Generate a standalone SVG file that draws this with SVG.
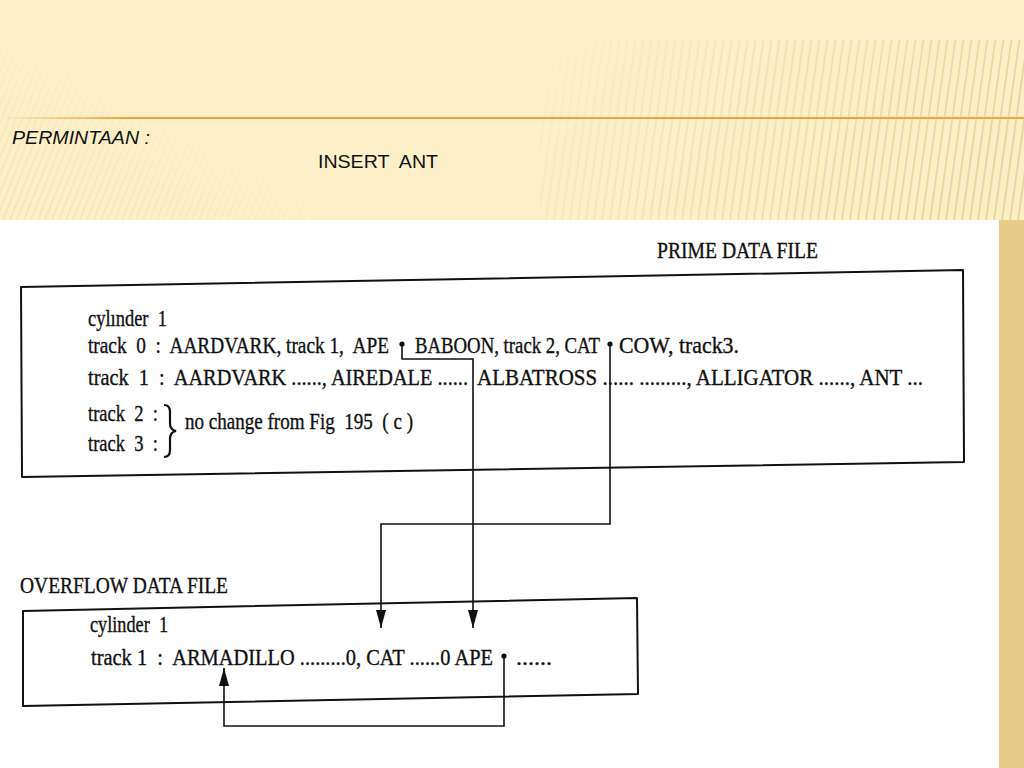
<svg xmlns="http://www.w3.org/2000/svg" width="1024" height="768" viewBox="0 0 1024 768">
<defs>
<style>
.serif{font-family:"Liberation Serif","Times New Roman",serif;font-size:23px;fill:#111;stroke:#111;stroke-width:0.35;white-space:pre}
.sans{font-family:"Liberation Sans",Arial,sans-serif;font-size:19px;fill:#111;white-space:pre}
.box{fill:#fff;stroke:#111;stroke-width:2;stroke-linejoin:round}
.conn{fill:none;stroke:#111;stroke-width:1.6}
.dot{fill:#111}
</style>
<marker id="ah" markerUnits="userSpaceOnUse" markerWidth="19" markerHeight="10" refX="18" refY="5" orient="auto">
<path d="M0,0 L18,5 L0,10 z" fill="#111"/>
</marker>
<pattern id="hatchL" width="7" height="60" patternUnits="userSpaceOnUse" patternTransform="skewX(-22)">
<rect width="1.4" height="60" fill="#EBD49A"/>
</pattern>
<pattern id="hatchR" width="8" height="60" patternUnits="userSpaceOnUse" patternTransform="skewX(-8)">
<rect width="2" height="60" fill="#E8CF8E"/>
</pattern>
<linearGradient id="fadeL" x1="0" y1="1" x2="1" y2="0">
<stop offset="0" stop-color="#fff" stop-opacity="0.6"/>
<stop offset="0.65" stop-color="#fff" stop-opacity="0"/>
</linearGradient>
<linearGradient id="fadeR" x1="0" y1="0" x2="1" y2="0.3">
<stop offset="0" stop-color="#fff" stop-opacity="0"/>
<stop offset="1" stop-color="#fff" stop-opacity="0.8"/>
</linearGradient>
<linearGradient id="fadeV" x1="0" y1="0" x2="0" y2="1">
<stop offset="0" stop-color="#fff" stop-opacity="0"/>
<stop offset="0.4" stop-color="#fff" stop-opacity="1"/>
</linearGradient>
<linearGradient id="rule" x1="0" y1="0" x2="1" y2="0">
<stop offset="0" stop-color="#E9A73E" stop-opacity="0"/>
<stop offset="0.12" stop-color="#E9A73E" stop-opacity="1"/>
<stop offset="1" stop-color="#E9A73E" stop-opacity="1"/>
</linearGradient>
<mask id="mL"><rect x="0" y="50" width="320" height="170" fill="url(#fadeL)"/></mask>
<mask id="mR"><rect x="540" y="40" width="484" height="180" fill="url(#fadeR)"/></mask>
</defs>

<!-- slide background -->
<rect x="0" y="0" width="1024" height="768" fill="#FDF0C8"/>
<rect x="0" y="50" width="320" height="170" fill="url(#hatchL)" mask="url(#mL)"/>
<rect x="540" y="40" width="484" height="180" fill="url(#hatchR)" mask="url(#mR)"/>
<rect x="0" y="117" width="1024" height="2" fill="url(#rule)"/>
<text class="sans" x="12" y="144" font-style="italic" textLength="138" lengthAdjust="spacingAndGlyphs">PERMINTAAN :</text>
<text class="sans" x="318" y="168" textLength="120" lengthAdjust="spacingAndGlyphs">INSERT  ANT</text>

<!-- scanned figure panel -->
<rect x="0" y="220" width="999" height="548" fill="#fff"/>
<rect x="999" y="220" width="25" height="548" fill="#E6CD8A"/>

<g id="prime-data-file">
<text class="serif" x="657" y="258" textLength="161" lengthAdjust="spacingAndGlyphs">PRIME DATA FILE</text>
<polygon class="box" points="21,287 963,270 964,462 22,477"/>
<text class="serif" x="88" y="326" textLength="79" lengthAdjust="spacingAndGlyphs">cylınder  1</text>
<text class="serif" x="88" y="353" textLength="301" lengthAdjust="spacingAndGlyphs">track  0  :  AARDVARK, track 1,  APE</text>
<text class="serif" x="415" y="353" textLength="185" lengthAdjust="spacingAndGlyphs">BABOON, track 2, CAT</text>
<text class="serif" x="619" y="353" textLength="120" lengthAdjust="spacingAndGlyphs">COW, track3.</text>
<text class="serif" x="88" y="385" textLength="380" lengthAdjust="spacingAndGlyphs">track  1  :  AARDVARK ......, AIREDALE ......</text>
<text class="serif" x="477" y="385" textLength="446" lengthAdjust="spacingAndGlyphs">ALBATROSS ...... ........., ALLIGATOR ......, ANT ...</text>
<text class="serif" x="88" y="421" textLength="70" lengthAdjust="spacingAndGlyphs">track  2  :</text>
<text class="serif" x="88" y="451" textLength="70" lengthAdjust="spacingAndGlyphs">track  3  :</text>
<path d="M164,405 Q170,405 170,412 L170,423 Q170,430 176,431 Q170,432 170,439 L170,450 Q170,457 164,457" fill="none" stroke="#111" stroke-width="2.2"/>
<text class="serif" x="185" y="429" textLength="228" lengthAdjust="spacingAndGlyphs">no change from Fig  195  ( c )</text>
</g>

<g id="overflow-data-file">
<text class="serif" x="20" y="593" textLength="208" lengthAdjust="spacingAndGlyphs">OVERFLOW DATA FILE</text>
<polygon class="box" points="23,611 637,598 638,694 23,706"/>
<text class="serif" x="90" y="632" textLength="78" lengthAdjust="spacingAndGlyphs">cylinder  1</text>
<text class="serif" x="91" y="665" textLength="402" lengthAdjust="spacingAndGlyphs">track 1  :  ARMADILLO .........0, CAT ......0 APE</text>
<text class="serif" x="516" y="665" textLength="36" lengthAdjust="spacingAndGlyphs">......</text>
</g>

<g id="connectors">
<circle class="dot" cx="402" cy="344" r="2.6"/>
<path class="conn" d="M402,344 L402,359 L473,359 L473,628" marker-end="url(#ah)"/>
<circle class="dot" cx="610" cy="344" r="2.6"/>
<path class="conn" d="M610,344 L610,524 L381,524 L381,628" marker-end="url(#ah)"/>
<circle class="dot" cx="504" cy="656" r="2.6"/>
<path class="conn" d="M504,656 L504,726 L224,726 L224,668" marker-end="url(#ah)"/>
</g>
</svg>
